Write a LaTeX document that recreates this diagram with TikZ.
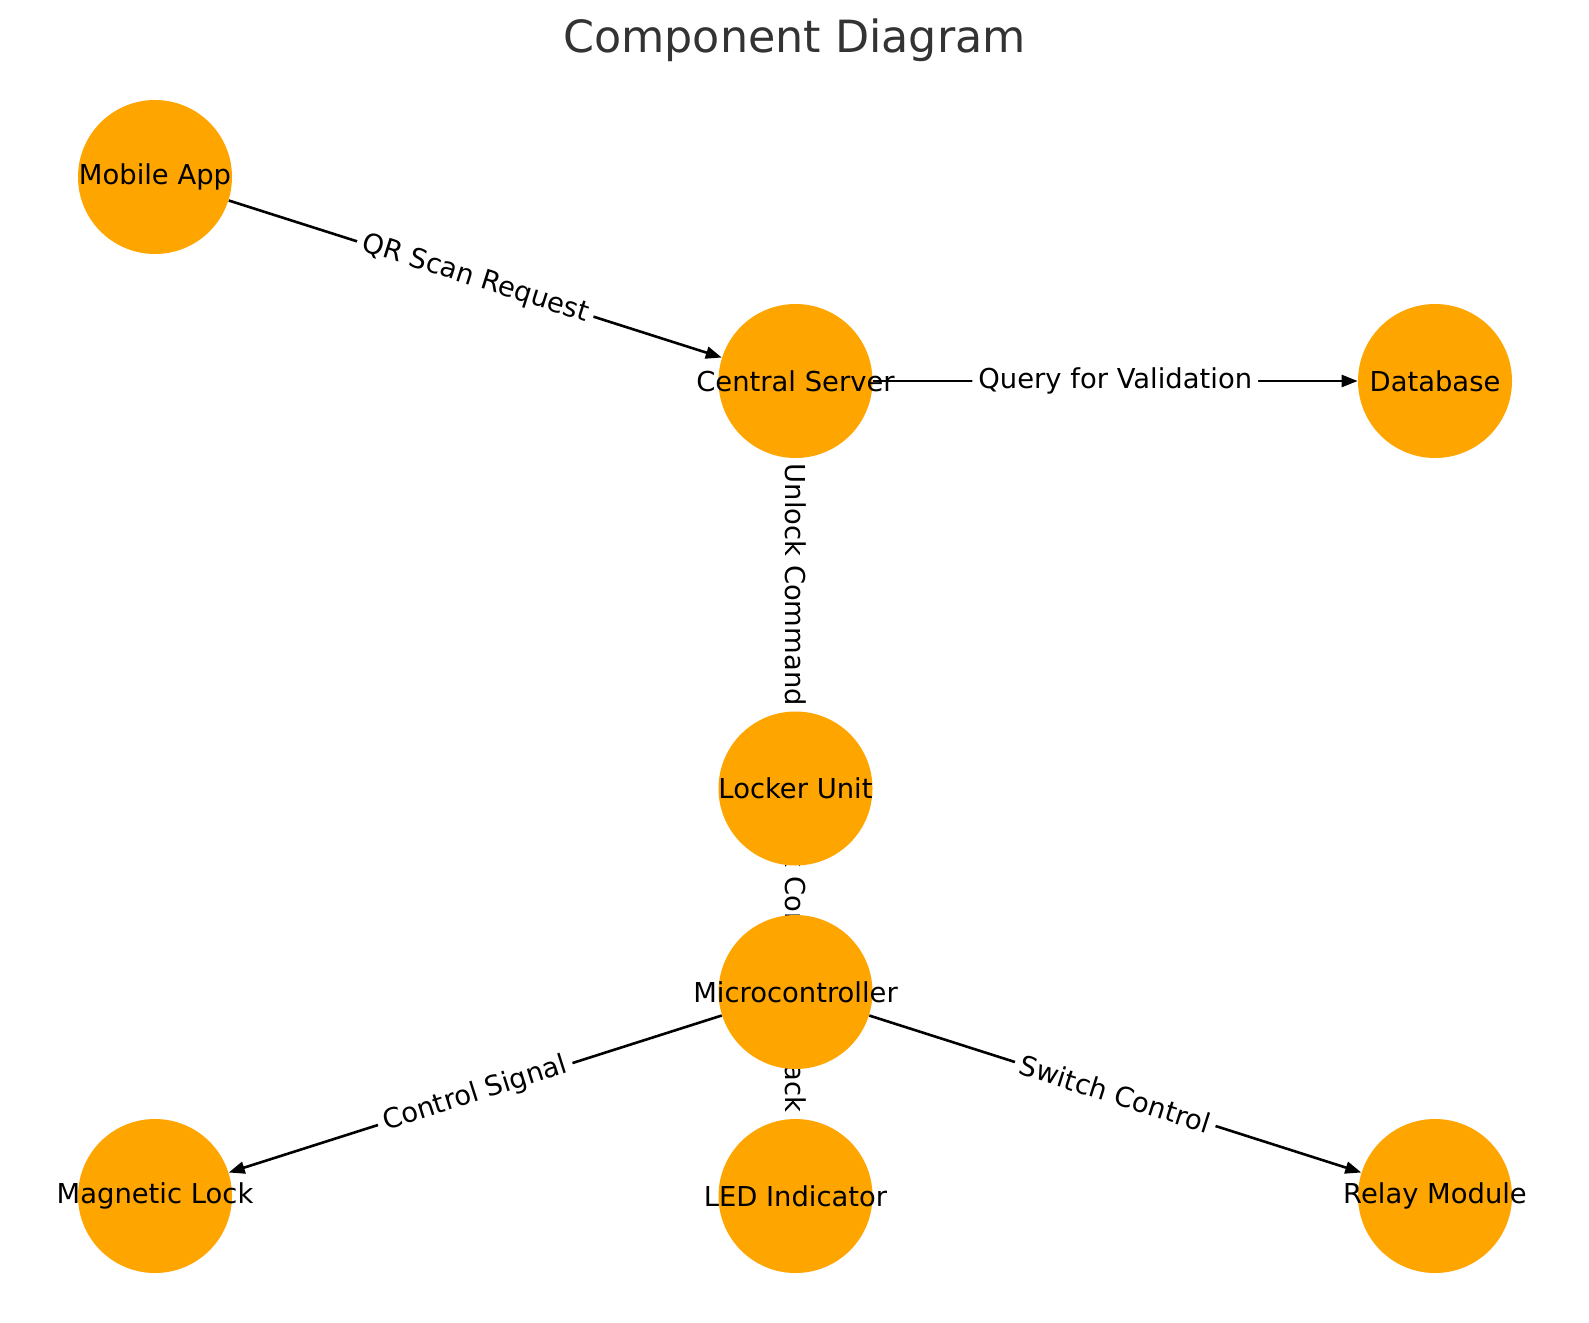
\documentclass[tikz,border=0pt]{standalone}
\usepackage{fontspec}
\setmainfont{DejaVu Sans}
\usetikzlibrary{arrows.meta}
\definecolor{nodeorange}{HTML}{FFA500}
\definecolor{titlegray}{HTML}{333333}
\pgfdeclarelayer{foreground}
\pgfsetlayers{main,foreground}
\begin{document}
\begin{tikzpicture}[x=0.5pt,y=-0.5pt,
  comp/.style={circle, fill=nodeorange, minimum size=77pt, inner sep=0pt, font=\fontsize{13.7}{16}\selectfont, text=black},
  conn/.style={line width=1.3pt, -{Triangle[length=8pt,width=6pt]}},
  elabel/.style={fill=white, inner sep=3pt, rounded corners=3pt, font=\fontsize{13.7}{16}\selectfont, text=black}]
\fill[white] (0,0) rectangle (1589,1322);
\useasboundingbox (0,0) rectangle (1589,1322);
\node[text=titlegray, font=\fontsize{22.2}{26}\selectfont] (title) at (794.5,40.5) {Component Diagram};
\begin{pgfonlayer}{foreground}
\node[comp] (mob) at (155,177) {\makebox[0pt]{Mobile App}};
\node[comp] (cs) at (795.5,381) {\makebox[0pt]{Central Server}};
\node[comp] (db) at (1435,381) {\makebox[0pt]{Database}};
\node[comp] (lu) at (795.5,788.5) {\makebox[0pt]{Locker Unit}};
\node[comp] (mc) at (795.5,992) {\makebox[0pt]{Microcontroller}};
\node[comp] (ml) at (155,1196) {\makebox[0pt]{Magnetic Lock}};
\node[comp] (led) at (795.5,1196) {\makebox[0pt]{LED Indicator}};
\node[comp] (rm) at (1435,1196) {\makebox[0pt]{Relay Module}};
\end{pgfonlayer}
\draw[conn] (mob) -- node[elabel, rotate=-17.67] {QR Scan Request} (cs);
\draw[conn] (cs) -- node[elabel] {Query for Validation} (db);
\draw[conn] (cs) -- node[elabel, rotate=-90] {Unlock Command} (lu);
\draw[conn] (lu) -- node[elabel, rotate=-90, pos=0.527] {Status Feedback} (led);
\draw[conn] (lu) -- node[elabel, rotate=-90] {Lock Control} (mc);
\draw[conn] (mc) -- node[elabel, rotate=17.67] {Control Signal} (ml);
\draw[conn] (mc) -- node[elabel, rotate=-17.67] {Switch Control} (rm);
\end{tikzpicture}
\end{document}
